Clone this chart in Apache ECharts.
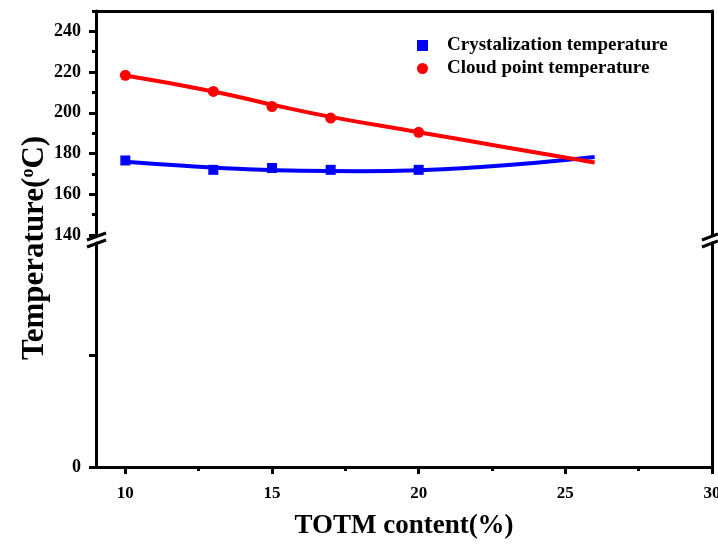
<!DOCTYPE html>
<html>
<head>
<meta charset="utf-8">
<script src="https://cdn.jsdelivr.net/npm/echarts@6/dist/echarts.min.js"></script>
<style>
html,body{margin:0;padding:0;background:#fff;}
#chart{width:718px;height:546px;}
</style>
</head>
<body>
<div id="chart"></div>
<script>
// ---- data ----
const xTickLabels = [10, 15, 20, 25, 30];
const xMinorTicks = [12.5, 17.5, 22.5, 27.5];
const yTickLabelsTop = [140, 160, 180, 200, 220, 240];
const yMinorTicksTop = [150, 170, 190, 210, 230, 250];
const yTickLabelsBottom = [0];

const totmContent = [10, 13, 15, 17, 20];
const crystalTemp = [176.6, 172.0, 172.9, 172.0, 172.0];
const cloudTemp = [218.4, 210.5, 203.1, 197.4, 190.4];

const crystalFitX = [10, 12, 14, 16, 18, 20, 22, 24, 26];
const crystalFitY = [176.0, 174.0, 172.4, 171.5, 171.3, 171.8, 173.3, 175.5, 178.3];
const cloudFitX = [10, 13, 15, 17, 20, 23, 26];
const cloudFitY = [218.3, 210.5, 204.0, 198.0, 190.5, 183.0, 175.6];

const seriesNames = ['Crystalization temperature', 'Cloud point temperature'];

// ---- chart ----
const FONT = 'Liberation Serif';
const pair = (xs, ys) => xs.map((x, i) => [x, ys[i]]);
const lineStyleAxis = { color: '#000', width: 3 };

const chart = echarts.init(document.getElementById('chart'), null, { renderer: 'canvas' });

const option = {
  backgroundColor: '#fff',
  animation: false,
  grid: [
    { left: 96, right: 6, top: 11, height: 224, outerBoundsMode: 'none', containLabel: false },
    { left: 96, right: 6, top: 243, height: 224, outerBoundsMode: 'none', containLabel: false }
  ],
  legend: {
    orient: 'vertical',
    left: 412,
    top: 31,
    itemWidth: 11,
    itemHeight: 11,
    itemGap: 4,
    data: seriesNames,
    textStyle: { fontFamily: FONT, fontWeight: 'bold', fontSize: 19, color: '#000', padding: [0, 0, 0, 14] }
  },
  xAxis: [
    { // top frame
      gridIndex: 0, type: 'value', min: 9, max: 30, position: 'top',
      axisLine: { show: true, lineStyle: lineStyleAxis },
      axisTick: { show: false }, axisLabel: { show: false }, splitLine: { show: false }
    },
    { // bottom main axis
      gridIndex: 1, type: 'value', min: 9, max: 30, position: 'bottom',
      axisLine: { show: true, onZero: false, lineStyle: lineStyleAxis },
      axisTick: { show: true, customValues: xTickLabels, length: 7, lineStyle: { color: '#000', width: 3 } },
      axisLabel: { customValues: xTickLabels, margin: 18, fontFamily: FONT, fontWeight: 'bold', fontSize: 17, color: '#000' },
      splitLine: { show: false },
      name: 'TOTM content(%)', nameLocation: 'middle', nameGap: 46,
      nameTextStyle: { fontFamily: FONT, fontWeight: 'bold', fontSize: 27, color: '#000' }
    },
    { // bottom minor ticks
      gridIndex: 1, type: 'value', min: 9, max: 30, position: 'bottom',
      axisLine: { show: false },
      axisTick: { show: true, customValues: xMinorTicks, length: 4, lineStyle: { color: '#000', width: 3 } },
      axisLabel: { show: false }, splitLine: { show: false }
    }
  ],
  yAxis: [
    { // top left main
      gridIndex: 0, type: 'value', min: 140, max: 250, position: 'left',
      axisLine: { show: true, onZero: false, lineStyle: lineStyleAxis },
      axisTick: { show: true, customValues: yTickLabelsTop, length: 7, lineStyle: { color: '#000', width: 3 } },
      axisLabel: { customValues: yTickLabelsTop, margin: 15, fontFamily: FONT, fontWeight: 'bold', fontSize: 18, color: '#000' },
      splitLine: { show: false }
    },
    { // top right frame
      gridIndex: 0, type: 'value', min: 140, max: 250, position: 'right',
      axisLine: { show: true, onZero: false, lineStyle: lineStyleAxis },
      axisTick: { show: false }, axisLabel: { show: false }, splitLine: { show: false }
    },
    { // top left minor
      gridIndex: 0, type: 'value', min: 140, max: 250, position: 'left',
      axisLine: { show: false },
      axisTick: { show: true, customValues: yMinorTicksTop, length: 4, lineStyle: { color: '#000', width: 3 } },
      axisLabel: { show: false }, splitLine: { show: false }
    },
    { // bottom left
      gridIndex: 1, type: 'value', min: 0, max: 2, position: 'left',
      axisLine: { show: true, onZero: false, lineStyle: lineStyleAxis },
      axisTick: { show: true, customValues: [0, 1], length: 7, lineStyle: { color: '#000', width: 3 } },
      axisLabel: { customValues: yTickLabelsBottom, margin: 15, fontFamily: FONT, fontWeight: 'bold', fontSize: 18, color: '#000' },
      splitLine: { show: false }
    },
    { // bottom right frame
      gridIndex: 1, type: 'value', min: 0, max: 2, position: 'right',
      axisLine: { show: true, onZero: false, lineStyle: lineStyleAxis },
      axisTick: { show: false }, axisLabel: { show: false }, splitLine: { show: false }
    }
  ],
  series: [
    {
      name: 'crystal fit', type: 'line', xAxisIndex: 0, yAxisIndex: 0,
      data: pair(crystalFitX, crystalFitY), smooth: true, showSymbol: false,
      lineStyle: { color: '#0000ff', width: 4 }, z: 3
    },
    {
      name: 'cloud fit', type: 'line', xAxisIndex: 0, yAxisIndex: 0,
      data: pair(cloudFitX, cloudFitY), smooth: true, showSymbol: false,
      lineStyle: { color: '#ff0000', width: 4 }, z: 4
    },
    {
      name: seriesNames[0], type: 'scatter', xAxisIndex: 0, yAxisIndex: 0,
      data: pair(totmContent, crystalTemp), symbol: 'rect', symbolSize: 10,
      itemStyle: { color: '#0000ff', opacity: 1 }, z: 5
    },
    {
      name: seriesNames[1], type: 'scatter', xAxisIndex: 0, yAxisIndex: 0,
      data: pair(totmContent, cloudTemp), symbol: 'circle', symbolSize: 11,
      itemStyle: { color: '#ff0000', opacity: 1 }, z: 6
    }
  ],
  graphic: [
    // axis break marks, left
    { type: 'line', shape: { x1: 87, y1: 240, x2: 106, y2: 233 }, style: { stroke: '#000', lineWidth: 3 } },
    { type: 'line', shape: { x1: 87, y1: 247, x2: 106, y2: 240 }, style: { stroke: '#000', lineWidth: 3 } },
    // axis break marks, right
    { type: 'line', shape: { x1: 702, y1: 240, x2: 718, y2: 234 }, style: { stroke: '#000', lineWidth: 3 } },
    { type: 'line', shape: { x1: 702, y1: 247, x2: 718, y2: 241 }, style: { stroke: '#000', lineWidth: 3 } },
    // y axis title
    {
      type: 'text', x: 35, y: 248, rotation: Math.PI / 2,
      style: {
        text: 'Temperature({sup|o}C)',
        align: 'center', verticalAlign: 'middle',
        fontFamily: FONT, fontWeight: 'bold', fontSize: 31, fill: '#000',
        rich: { sup: { fontFamily: FONT, fontWeight: 'bold', fontSize: 18, fill: '#000', verticalAlign: 'top', padding: [0, 0, 12, 0] } }
      }
    }
  ]
};
chart.setOption(option);
</script>
</body>
</html>
